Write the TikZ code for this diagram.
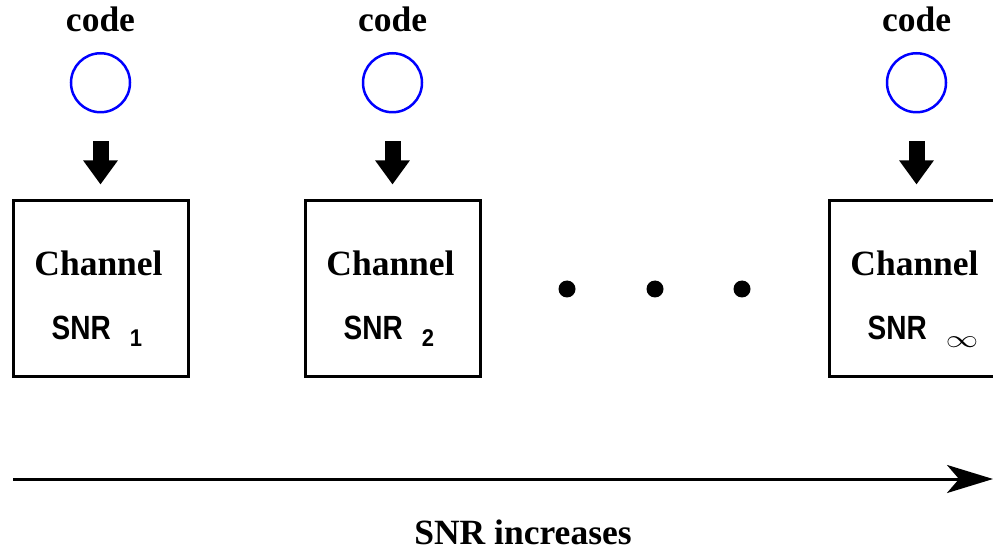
\documentclass[tikz,border=0pt]{standalone}
\usepackage{fontspec}
\setmainfont{Liberation Serif}
\setsansfont{Liberation Sans}
\usetikzlibrary{positioning,arrows.meta}
\tikzstyle{diagram} = [x = 1pt, y = -1pt]
\definecolor{codeColor}{RGB}{0,0,255}
\tikzstyle{channelBox} = [draw, line width=3pt, minimum width=175pt, minimum height=175pt, inner sep=0pt]
\tikzstyle{codeCircle} = [draw=codeColor, line width=2.5pt, circle, minimum size=59pt, inner sep=0pt]
\tikzstyle{codeText} = [font=\fontsize{35.5}{40}\selectfont\bfseries, inner sep=0pt]
\tikzstyle{channelText} = [font=\fontsize{35.5}{40}\selectfont\bfseries, inner sep=0pt, anchor=base]
\tikzstyle{snrText} = [font=\fontsize{28}{32}\selectfont\sffamily\bfseries, inner sep=0pt, anchor=base west]
\tikzstyle{feedArrow} = [line width=16pt, -{Triangle[length=24pt, width=33pt]}, shorten <=28pt, shorten >=15pt]
\tikzstyle{dotStyle} = [circle, fill=black, minimum size=17pt, inner sep=0pt]
\tikzstyle{axisArrow} = [line width=3pt, -{Stealth[length=46pt, width=28pt, inset=12pt]}]
\newcommand{\snrDigit}[1]{\raisebox{-7pt}{\fontsize{22}{22}\selectfont\scalebox{1}[1.1]{#1}}}
\newcommand{\snrInfty}{\raisebox{-8pt}{\fontsize{32}{32}\selectfont\scalebox{1.3}[1]{$\infty$}}}
\newcommand{\channelColumn}[3]{
  \node [channelBox] (chan#1) at (#2, 288.5) {};
  \node [codeCircle, above=86pt of chan#1] (code#1) {};
  \node [codeText, above=20pt of code#1] (codeLabel#1) {code};
  \node [channelText] (chanName#1) at ([xshift=-2pt, yshift=12.5pt]chan#1.center) {Channel};
  \node [snrText] (chanSnr#1) at ([xshift=-49pt, yshift=-50.5pt]chan#1.center) {\scalebox{1}[1.2]{SNR}\hspace{19pt}#3};
  \draw [feedArrow] (code#1) -- (chan#1);
}
\begin{document}
\begin{tikzpicture}[diagram]
\useasboundingbox (0,0) rectangle (993,553);
\clip (0,0) rectangle (993,553);
\channelColumn{1}{100.5}{\snrDigit{1}}
\channelColumn{2}{392.5}{\snrDigit{2}}
\channelColumn{3}{916.5}{\snrInfty}
% dots between the channels
\foreach \i/\x in {1/567, 2/655, 3/742} {
  \node [dotStyle] (dot\i) at (\x, 289) {};
}
% snr axis
\coordinate (axisStart) at (13, 479);
\coordinate (axisEnd) at (993, 479);
\draw [axisArrow] (axisStart) -- (axisEnd);
\node [codeText] (axisLabel) at (523, 532) {SNR increases};
\end{tikzpicture}
\end{document}
